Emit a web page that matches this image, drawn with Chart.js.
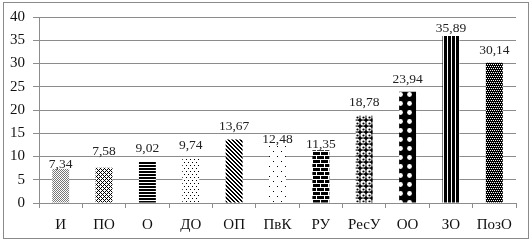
<!DOCTYPE html>
<html>
<head>
<meta charset="utf-8">
<script src="https://cdn.jsdelivr.net/npm/chart.js@4/dist/chart.umd.min.js"></script>
<style>
  html, body { margin: 0; padding: 0; background: #fff; }
  #wrap { width: 532px; height: 242px; }
</style>
</head>
<body>
<div id="wrap"><canvas id="c" width="532" height="242"></canvas></div>
<script>
// ---- data ----
const categories = ['И', 'ПО', 'О', 'ДО', 'ОП', 'ПвК', 'РУ', 'РесУ', 'ОО', 'ЗО', 'ПозО'];
const values = [7.34, 7.58, 9.02, 9.74, 13.67, 12.48, 11.35, 18.78, 23.94, 35.89, 30.14];
const yMin = 0, yMax = 40, yStep = 5;

// ---- styling (not data) ----
const labelLift = [4.5, 16, 13, 12, 12.5, 5.5, 5.5, 13, 12, 7.5, 12];
const GRID = '#8c8c8c';
const SERIF = "'Liberation Serif', 'Times New Roman', serif";

function bitmapPattern(rows, color) {
  const h = rows.length, w = rows[0].length;
  const cv = document.createElement('canvas');
  cv.width = w; cv.height = h;
  const g = cv.getContext('2d');
  g.fillStyle = '#fff'; g.fillRect(0, 0, w, h);
  for (let y = 0; y < h; y++) for (let x = 0; x < w; x++) {
    const ch = rows[y][x];
    if (ch === 'X') { g.fillStyle = color || '#000'; g.fillRect(x, y, 1, 1); }
    else if (ch === 'g') { g.fillStyle = '#777'; g.fillRect(x, y, 1, 1); }
  }
  return g.createPattern(cv, 'repeat');
}
function drawnPattern(w, h, fn) {
  const cv = document.createElement('canvas');
  cv.width = w; cv.height = h;
  const g = cv.getContext('2d');
  g.fillStyle = '#fff'; g.fillRect(0, 0, w, h);
  fn(g, w, h);
  return g.createPattern(cv, 'repeat');
}

const patterns = [
  // И : fine stipple
  bitmapPattern(['g.', '.g']),
  // ПО : diagonal lattice
  bitmapPattern(['X...', '.X.X', '..X.', '.X.X']),
  // О : horizontal lines
  bitmapPattern(['X', 'X', '.']),
  // ДО : sparse dots
  bitmapPattern(['X...', '....', '....', '..X.', '....', '....']),
  // ОП : wide downward diagonal
  bitmapPattern(['XX..', '.XX.', '..XX', 'X..X']),
  // ПвК : very sparse dots
  bitmapPattern(['........', '.X......', '........', '........', '........', '........', '.....X..', '........', '........', '........']),
  // РУ : bricks
  bitmapPattern(['.XXXXXXX', '.XXXXXXX', '.XXXXXXX', '........', 'XXXX.XXX', 'XXXX.XXX', 'XXXX.XXX', '........']),
  // РесУ : spheres
  drawnPattern(6, 6, (g) => {
    g.fillStyle = '#000'; g.fillRect(0, 0, 6, 6);
    g.fillStyle = '#fff'; g.beginPath(); g.arc(3, 3, 2.6, 0, Math.PI * 2); g.fill();
    g.fillStyle = '#000'; g.beginPath(); g.arc(3.5, 3.5, 1.1, 0, Math.PI * 2); g.fill();
  }),
  // ОО : black with large white dots
  drawnPattern(9, 9, (g) => {
    g.fillStyle = '#000'; g.fillRect(0, 0, 9, 9);
    g.fillStyle = '#fff'; g.beginPath(); g.arc(4.5, 4.5, 2.4, 0, Math.PI * 2); g.fill();
  }),
  // ЗО : wide vertical lines
  bitmapPattern(['XXX.']),
  // ПозО : dense trellis with small white specks
  bitmapPattern(['X.X.', 'XXXX', '.X.X', 'XXXX'])
];

const frame = {
  id: 'frame',
  beforeDraw(chart) {
    const c = chart.ctx;
    c.save();
    c.fillStyle = '#fff';
    c.fillRect(0, 0, chart.width, chart.height);
    c.strokeStyle = '#8a8a8a';
    c.lineWidth = 1;
    c.strokeRect(3.5, 2.5, 525, 236);
    c.restore();
  }
};

const valueLabels = {
  id: 'valueLabels',
  afterDatasetsDraw(chart) {
    const c = chart.ctx;
    const meta = chart.getDatasetMeta(0);
    c.save();
    c.font = '13.5px ' + SERIF;
    c.fillStyle = '#222';
    c.textAlign = 'center';
    c.textBaseline = 'middle';
    meta.data.forEach((bar, i) => {
      const txt = values[i].toFixed(2).replace('.', ',');
      c.fillText(txt, bar.x, bar.y - labelLift[i]);
    });
    c.restore();
  }
};

new Chart(document.getElementById('c'), {
  type: 'bar',
  data: {
    labels: categories,
    datasets: [{
      data: values,
      backgroundColor: patterns,
      borderWidth: 0,
      barPercentage: 0.39,
      categoryPercentage: 1.0
    }]
  },
  options: {
    responsive: false,
    animation: false,
    devicePixelRatio: 1,
    layout: { padding: { left: 5, right: 16, top: 16, bottom: 0 } },
    plugins: { legend: { display: false }, tooltip: { enabled: false } },
    scales: {
      x: {
        offset: true,
        grid: { display: true, drawOnChartArea: false, drawTicks: true, tickLength: 5, color: GRID, offset: true },
        border: { display: true, color: GRID },
        ticks: { color: '#111', font: { family: SERIF, size: 15 }, padding: 8, maxRotation: 0, autoSkip: false },
        afterFit(s) { s.height = 39; }
      },
      y: {
        min: yMin, max: yMax,
        grid: { color: GRID, tickLength: 6, drawTicks: true },
        border: { display: true, color: GRID },
        ticks: { stepSize: yStep, color: '#111', font: { family: SERIF, size: 15 }, padding: 8 },
        afterFit(s) { s.width = 34; }
      }
    }
  },
  plugins: [frame, valueLabels]
});
</script>
</body>
</html>
